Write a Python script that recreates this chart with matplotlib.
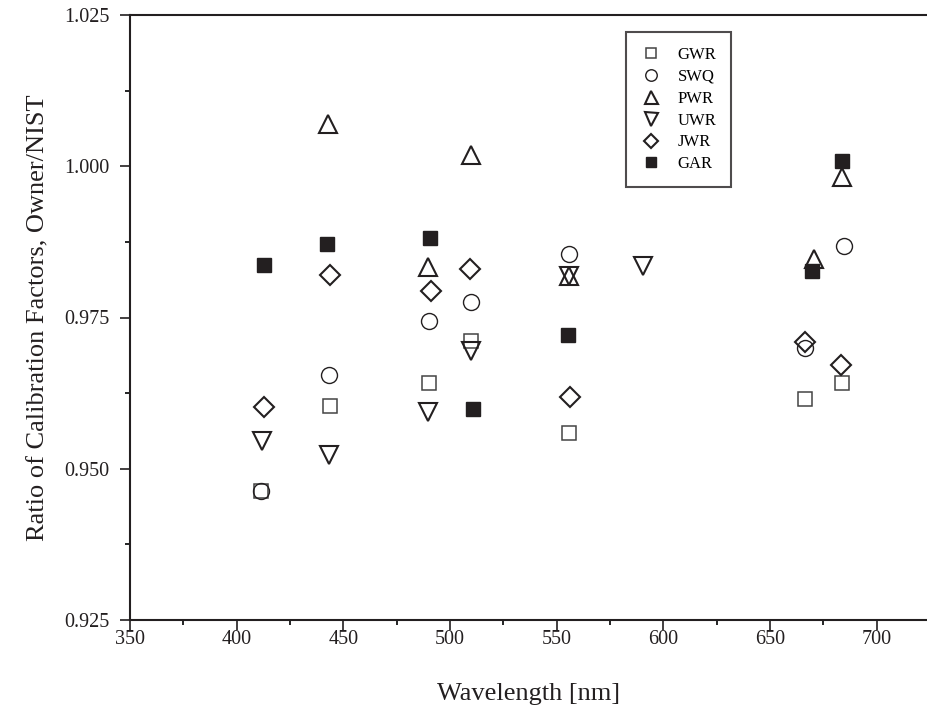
import matplotlib
matplotlib.use("Agg")
import matplotlib.pyplot as plt
from matplotlib.ticker import MultipleLocator, FormatStrFormatter

plt.rcParams['font.family'] = ['Liberation Serif', 'DejaVu Serif']

# ---- Data (wavelength [nm], ratio owner/NIST) ----
gwr_x = [411.5, 443.9, 490.0, 509.6, 555.8, 666.3, 683.8]
gwr_y = [0.9464, 0.9603, 0.9642, 0.9711, 0.9559, 0.9615, 0.9642]

swq_x = [411.4, 443.3, 490.1, 510.0, 555.7, 666.3, 684.4]
swq_y = [0.9464, 0.9655, 0.9744, 0.9775, 0.9855, 0.9699, 0.9869]

pwr_x = [442.9, 489.8, 510.0, 555.7, 670.5, 683.5]
pwr_y = [1.0070, 0.9833, 1.0019, 0.9819, 0.9846, 0.9982]

uwr_x = [411.7, 443.3, 489.8, 510.0, 555.7, 590.4]
uwr_y = [0.9546, 0.9522, 0.9593, 0.9694, 0.9819, 0.9835]

jwr_x = [412.6, 443.9, 491.0, 509.5, 556.4, 666.3, 683.0]
jwr_y = [0.9602, 0.9820, 0.9794, 0.9830, 0.9618, 0.9710, 0.9671]

gar_x = [412.8, 442.5, 490.6, 510.7, 555.2, 669.4, 683.5]
gar_y = [0.9837, 0.9871, 0.9881, 0.9599, 0.9721, 0.9827, 1.0009]

ink = "#231f20"

fig = plt.figure(figsize=(9.28, 7.10), dpi=100)
ax = fig.add_axes([130 / 928, 90 / 710, 798 / 928, 605 / 710])

ax.plot(gwr_x, gwr_y, ls="none", marker="s", ms=9.4, mfc="white", mec="#444444", mew=1.1, label="GWR")
ax.plot(swq_x, swq_y, ls="none", marker="o", ms=11.5, mfc="none", mec=ink, mew=1.0, label="SWQ")
ax.plot(pwr_x, pwr_y, ls="none", marker="^", ms=13, mfc="none", mec=ink, mew=1.5, label="PWR")
ax.plot(uwr_x, uwr_y, ls="none", marker="v", ms=13, mfc="none", mec=ink, mew=1.5, label="UWR")
ax.plot(jwr_x, jwr_y, ls="none", marker="D", ms=10, mfc="none", mec=ink, mew=1.5, label="JWR")
ax.plot(gar_x, gar_y, ls="none", marker="s", ms=9.4, mfc=ink, mec=ink, mew=1.0, label="GAR")

ax.set_xlim(350, 724)
ax.set_ylim(0.925, 1.025)

ax.xaxis.set_major_locator(MultipleLocator(50))
ax.xaxis.set_minor_locator(MultipleLocator(25))
ax.yaxis.set_major_locator(MultipleLocator(0.025))
ax.yaxis.set_minor_locator(MultipleLocator(0.0125))
ax.yaxis.set_major_formatter(FormatStrFormatter("%.3f"))

ax.tick_params(which="major", direction="out", length=7, width=1.2, labelsize=14.5, colors=ink)
ax.tick_params(which="minor", direction="out", length=3.5, width=1.2)
ax.tick_params(axis="x", which="major", pad=0.5)
ax.tick_params(axis="y", which="major", pad=8)

for side in ["left", "bottom", "top"]:
    ax.spines[side].set_linewidth(1.5)
    ax.spines[side].set_color(ink)
ax.spines["right"].set_visible(False)

ax.set_xlabel("Wavelength [nm]", fontsize=19, labelpad=24, color=ink)
ax.set_ylabel("Ratio of Calibration Factors, Owner/NIST", fontsize=19, labelpad=10, color=ink)

leg = ax.legend(loc="upper left", bbox_to_anchor=(0.6216, 0.9719), borderaxespad=0,
                fontsize=12, markerscale=0.72, handlelength=1.2, handletextpad=1.0,
                borderpad=0.9, labelspacing=0.35, fancybox=False, frameon=True)
leg.get_frame().set_edgecolor(ink)
leg.get_frame().set_linewidth(1.5)

fig.savefig("out.png", dpi=100)
